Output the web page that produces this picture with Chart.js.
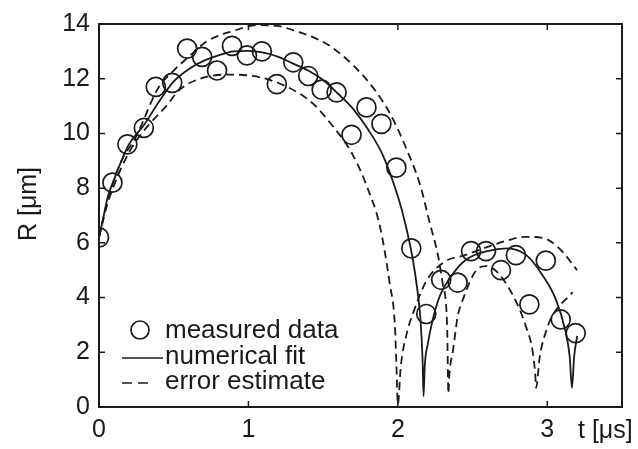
<!DOCTYPE html>
<html>
<head>
<meta charset="utf-8">
<script src="https://cdn.jsdelivr.net/npm/chart.js@4.4.0/dist/chart.umd.min.js"></script>
<style>
  html, body { margin: 0; padding: 0; background: #fff; }
  canvas { display: block; }
</style>
</head>
<body>
<canvas id="myChart" width="638" height="449"></canvas>
<script>
// measured bubble radius
const tMeasured = [0.0, 0.09, 0.19, 0.30, 0.38, 0.49, 0.59, 0.69, 0.79, 0.89, 0.99, 1.09, 1.19, 1.30, 1.40, 1.49, 1.59,
    1.69, 1.79, 1.89, 1.99, 2.09, 2.19, 2.29, 2.40, 2.49, 2.59, 2.69, 2.79, 2.88, 2.99, 3.09, 3.19];
const rMeasured = [6.2, 8.2, 9.6, 10.2, 11.7, 11.85, 13.1, 12.8, 12.3, 13.2, 12.85, 13.0, 11.8, 12.6, 12.1, 11.6, 11.5,
    9.95, 10.95, 10.35, 8.75, 5.8, 3.4, 4.65, 4.55, 5.7, 5.7, 5.0, 5.55, 3.75, 5.35, 3.2, 2.7];

// numerical fit
const tFit = [0, 0.03, 0.06, 0.1, 0.15, 0.2, 0.3, 0.4, 0.5, 0.6, 0.7, 0.8, 0.9, 1.0, 1.1, 1.2, 1.3, 1.4, 1.5, 1.6,
    1.7, 1.8, 1.9, 2.0, 2.05, 2.1, 2.13, 2.15, 2.165, 2.172, 2.18, 2.2, 2.27, 2.36, 2.46, 2.6, 2.73, 2.86, 2.97,
    3.06, 3.12, 3.15, 3.165, 3.18, 3.2];
const rFit = [6.2, 6.95, 7.7, 8.3, 9.0, 9.6, 10.3, 11.15, 11.9, 12.35, 12.65, 12.85, 13.0, 13.02, 12.95, 12.8, 12.55,
    12.3, 11.95, 11.45, 10.9, 10.15, 9.2, 7.7, 6.7, 5.4, 4.3, 3.3, 1.8, 0.4, 1.5, 2.3, 3.9, 4.8, 5.4, 5.7, 5.8, 5.55,
    4.8, 3.9, 2.8, 1.85, 0.7, 1.86, 2.6];

// error estimate, upper branch
const tErrUpper = [0, 0.05, 0.1, 0.15, 0.25, 0.39, 0.5, 0.59, 0.72, 0.9, 1.06, 1.19, 1.34, 1.48, 1.545, 1.68, 1.83,
    1.95, 2.06, 2.15, 2.21, 2.27, 2.3, 2.33, 2.338, 2.345, 2.37, 2.4, 2.44, 2.52, 2.59, 2.66, 2.73, 2.8, 2.86, 2.9,
    2.92, 2.925, 2.95, 3.0, 3.03, 3.17];
const rErrUpper = [6.2, 7.4, 8.3, 9.0, 9.9, 11.6, 12.3, 12.75, 13.36, 13.75, 13.96, 13.93, 13.7, 13.4, 13.2, 12.6,
    11.7, 10.7, 9.4, 8.1, 6.8, 5.5, 4.5, 2.9, 0.5, 1.2, 2.1, 3.3, 4.0, 4.96, 5.15, 4.96, 4.46, 3.75, 2.9, 2.1,
    1.15, 0.7, 1.85, 2.9, 3.3, 4.2];

// error estimate, lower branch
const tErrLower = [0, 0.05, 0.1, 0.2, 0.3, 0.45, 0.54, 0.676, 0.856, 1.03, 1.26, 1.43, 1.545, 1.7, 1.79, 1.88, 1.946,
    1.98, 1.99, 2.0, 2.02, 2.06, 2.1, 2.19, 2.31, 2.45, 2.6, 2.73, 2.85, 2.97, 3.08, 3.2];
const rErrLower = [6.2, 7.3, 8.1, 9.3, 10.1, 11.0, 11.6, 12.0, 12.15, 12.1, 11.7, 11.1, 10.4, 9.2, 8.1, 6.6, 4.5,
    3.0, 1.6, 0.1, 1.5, 2.7, 3.4, 4.6, 5.3, 5.55, 5.85, 6.08, 6.22, 6.18, 5.8, 5.0];

const xTicks = [0, 1, 2, 3];
const yTicks = [0, 2, 4, 6, 8, 10, 12, 14];

const ink = '#1a1a1a';
const fontFamily = "'Liberation Sans', Arial, sans-serif";

function pts(xs, ys) {
    return xs.map((x, i) => ({ x: x, y: ys[i] }));
}

Chart.defaults.font.family = fontFamily;
Chart.defaults.color = ink;

// box, inward ticks, axis titles and the legend inside the plot
const frame = {
    id: 'frame',
    afterDraw(chart) {
        const { ctx, chartArea: a } = chart;
        const sx = chart.scales.x, sy = chart.scales.y;
        ctx.save();
        ctx.strokeStyle = ink;
        ctx.lineWidth = 2;
        ctx.strokeRect(a.left, a.top, a.right - a.left, a.bottom - a.top);

        ctx.lineWidth = 1.5;
        ctx.beginPath();
        xTicks.forEach(v => {
            const px = sx.getPixelForValue(v);
            ctx.moveTo(px, a.bottom); ctx.lineTo(px, a.bottom - 6);
            ctx.moveTo(px, a.top); ctx.lineTo(px, a.top + 6);
        });
        yTicks.forEach(v => {
            const py = sy.getPixelForValue(v);
            ctx.moveTo(a.left, py); ctx.lineTo(a.left + 6, py);
            ctx.moveTo(a.right, py); ctx.lineTo(a.right - 6, py);
        });
        ctx.stroke();

        ctx.fillStyle = ink;
        ctx.textBaseline = 'middle';
        ctx.textAlign = 'left';
        ctx.font = '25px ' + fontFamily;
        ctx.fillText('t [μs]', 578, 431);

        ctx.save();
        ctx.translate(29, 204);
        ctx.rotate(-Math.PI / 2);
        ctx.textAlign = 'center';
        ctx.fillText('R [μm]', 0, 0);
        ctx.restore();

        // legend
        const ds = chart.data.datasets;
        ctx.font = '26px ' + fontFamily;
        ctx.lineWidth = 1.7;
        ctx.beginPath();
        ctx.arc(140, 330, 9, 0, Math.PI * 2);
        ctx.stroke();
        ctx.fillText(ds[0].label, 165, 331);

        ctx.beginPath();
        ctx.moveTo(122, 358); ctx.lineTo(163, 358);
        ctx.stroke();
        ctx.fillText(ds[1].label, 165, 357);

        ctx.setLineDash([10, 6]);
        ctx.beginPath();
        ctx.moveTo(122, 383); ctx.lineTo(154, 383);
        ctx.stroke();
        ctx.setLineDash([]);
        ctx.fillText(ds[2].label, 165, 382);
        ctx.restore();
    }
};

const lineStyle = {
    showLine: true,
    pointRadius: 0,
    borderColor: ink,
    borderWidth: 1.8,
    cubicInterpolationMode: 'monotone',
    fill: false
};

new Chart(document.getElementById('myChart'), {
    type: 'scatter',
    data: {
        datasets: [
            {
                label: 'measured data',
                data: pts(tMeasured, rMeasured),
                pointRadius: 9.5,
                pointBorderWidth: 1.7,
                pointBorderColor: ink,
                pointBackgroundColor: 'rgba(0,0,0,0)',
                showLine: false
            },
            Object.assign({ label: 'numerical fit', data: pts(tFit, rFit) }, lineStyle),
            Object.assign({ label: 'error estimate', data: pts(tErrUpper, rErrUpper), borderDash: [8, 5] }, lineStyle),
            Object.assign({ label: 'error estimate', data: pts(tErrLower, rErrLower), borderDash: [8, 5] }, lineStyle)
        ]
    },
    options: {
        responsive: false,
        animation: false,
        devicePixelRatio: 1,
        layout: { padding: { top: 15, right: 16, left: 0, bottom: 0 } },
        plugins: {
            legend: { display: false },
            tooltip: { enabled: false }
        },
        scales: {
            x: {
                type: 'linear',
                min: 0,
                max: 3.5,
                grid: { display: false, drawTicks: false },
                border: { display: false },
                ticks: { font: { size: 25 }, padding: 8, color: ink },
                afterBuildTicks: s => { s.ticks = xTicks.map(v => ({ value: v })); },
                afterFit: s => { s.height = 42; }
            },
            y: {
                min: 0,
                max: 14,
                grid: { display: false, drawTicks: false },
                border: { display: false },
                ticks: { font: { size: 25 }, padding: 9, color: ink },
                afterBuildTicks: s => { s.ticks = yTicks.map(v => ({ value: v })); },
                afterFit: s => { s.width = 99; }
            }
        }
    },
    plugins: [frame]
});
</script>
</body>
</html>
